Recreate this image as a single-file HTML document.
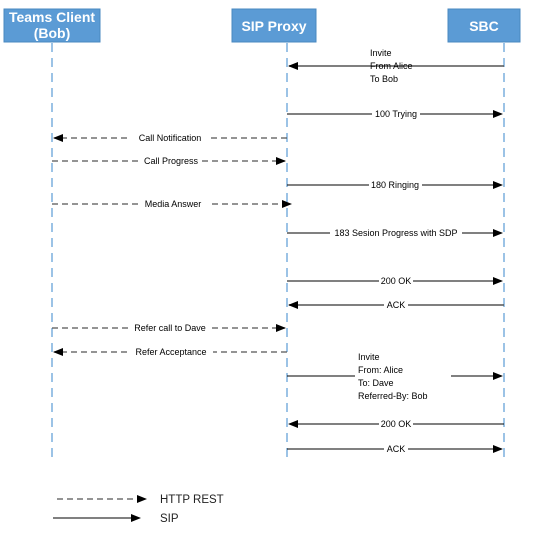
<!DOCTYPE html>
<html><head><meta charset="utf-8"><style>
html,body{margin:0;padding:0;background:#fff;}
svg{display:block;font-family:"Liberation Sans",sans-serif;}
.box{fill:#5b9bd5;stroke:#4a88c0;stroke-width:1}
.bt{fill:#fff;font-weight:bold;font-size:14px;text-anchor:middle}
.ll{stroke:#5b9bd5;stroke-width:1.2;stroke-dasharray:9,6}
.s{stroke:#000;stroke-width:1}
.g{stroke:#555;stroke-width:1.6}
.d{stroke:#555;stroke-width:1.2;stroke-dasharray:6,4}
.t{font-size:9px;fill:#000;text-anchor:middle}
.tl{font-size:9px;fill:#000}
.bg{fill:#fff}
</style></head><body>
<svg width="546" height="537" viewBox="0 0 546 537">
<defs>
<marker id="a" markerWidth="10" markerHeight="8" refX="9" refY="4" orient="auto" markerUnits="userSpaceOnUse"><path d="M0,0 L10,4 L0,8 z" fill="#000"/></marker>
</defs>
<rect class="box" x="4" y="9" width="96" height="33"/>
<text class="bt" x="52" y="22">Teams Client</text>
<text class="bt" x="52" y="38">(Bob)</text>
<rect class="box" x="232" y="9" width="84" height="33"/>
<text class="bt" x="274" y="31">SIP Proxy</text>
<rect class="box" x="448" y="9" width="72" height="33"/>
<text class="bt" x="484" y="31">SBC</text>
<line class="ll" x1="52" y1="43" x2="52" y2="462"/>
<line class="ll" x1="287" y1="43" x2="287" y2="462"/>
<line class="ll" x1="504" y1="43" x2="504" y2="462"/>

<line class="g" x1="504" y1="66" x2="289" y2="66" marker-end="url(#a)"/>
<text class="tl" x="370" y="56">Invite</text>
<text class="tl" x="370" y="69">From Alice</text>
<text class="tl" x="370" y="82">To Bob</text>

<line class="s" x1="287" y1="114" x2="502" y2="114" marker-end="url(#a)"/>
<rect class="bg" x="372" y="109" width="48" height="10"/><text class="t" x="396" y="117">100 Trying</text>

<line class="d" x1="287" y1="138" x2="54" y2="138" marker-end="url(#a)"/>
<rect class="bg" x="131" y="133" width="78" height="10"/><text class="t" x="170" y="141">Call Notification</text>

<line class="d" x1="52" y1="161" x2="285" y2="161" marker-end="url(#a)"/>
<rect class="bg" x="140" y="156" width="62" height="10"/><text class="t" x="171" y="164">Call Progress</text>

<line class="s" x1="287" y1="185" x2="502" y2="185" marker-end="url(#a)"/>
<rect class="bg" x="369" y="180" width="53" height="10"/><text class="t" x="395" y="188">180 Ringing</text>

<line class="d" x1="52" y1="204" x2="291" y2="204" marker-end="url(#a)"/>
<rect class="bg" x="138" y="199" width="70" height="10"/><text class="t" x="173" y="207">Media Answer</text>

<line class="s" x1="287" y1="233" x2="502" y2="233" marker-end="url(#a)"/>
<rect class="bg" x="330" y="228" width="132" height="10"/><text class="t" x="396" y="236">183 Sesion Progress with SDP</text>

<line class="s" x1="287" y1="281" x2="502" y2="281" marker-end="url(#a)"/>
<rect class="bg" x="379" y="276" width="34" height="10"/><text class="t" x="396" y="284">200 OK</text>

<line class="g" x1="504" y1="305" x2="289" y2="305" marker-end="url(#a)"/>
<rect class="bg" x="384" y="300" width="24" height="10"/><text class="t" x="396" y="308">ACK</text>

<line class="d" x1="52" y1="328" x2="285" y2="328" marker-end="url(#a)"/>
<rect class="bg" x="129" y="323" width="82" height="10"/><text class="t" x="170" y="331">Refer call to Dave</text>

<line class="d" x1="287" y1="352" x2="54" y2="352" marker-end="url(#a)"/>
<rect class="bg" x="129" y="347" width="84" height="10"/><text class="t" x="171" y="355">Refer Acceptance</text>

<line class="s" x1="287" y1="376" x2="502" y2="376" marker-end="url(#a)"/>
<rect class="bg" x="355" y="352" width="96" height="50"/>
<text class="tl" x="358" y="360">Invite</text>
<text class="tl" x="358" y="373">From: Alice</text>
<text class="tl" x="358" y="386">To: Dave</text>
<text class="tl" x="358" y="399">Referred-By: Bob</text>

<line class="s" x1="504" y1="424" x2="289" y2="424" marker-end="url(#a)"/>
<rect class="bg" x="379" y="419" width="34" height="10"/><text class="t" x="396" y="427">200 OK</text>

<line class="s" x1="287" y1="449" x2="502" y2="449" marker-end="url(#a)"/>
<rect class="bg" x="384" y="444" width="24" height="10"/><text class="t" x="396" y="452">ACK</text>

<line class="d" x1="57" y1="499" x2="146" y2="499" marker-end="url(#a)"/>
<text x="160" y="503" font-size="11.5" fill="#222">HTTP REST</text>
<line class="s" x1="53" y1="518" x2="140" y2="518" marker-end="url(#a)"/>
<text x="160" y="522" font-size="11.5" fill="#222">SIP</text>
</svg>
</body></html>
